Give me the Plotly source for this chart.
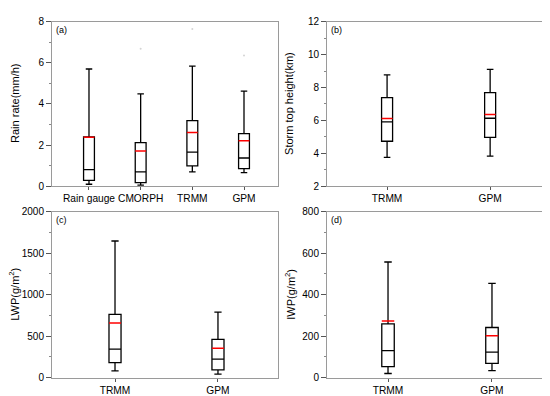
import plotly.graph_objects as go

# ---------------- data ----------------
# (a) Rain rate (mm/h)
a_cats = ["Rain gauge", "CMORPH", "TRMM", "GPM"]
a_low = [0.09, 0.05, 0.69, 0.66]
a_q1 = [0.28, 0.17, 0.99, 0.85]
a_med = [0.80, 0.69, 1.65, 1.37]
a_q3 = [2.39, 2.12, 3.19, 2.56]
a_high = [5.70, 4.49, 5.84, 4.62]
a_mean = [2.38, 1.71, 2.61, 2.21]
a_out_cat = ["CMORPH", "TRMM", "GPM"]
a_out_val = [6.69, 7.65, 6.36]

# (b) Storm top height (km)
b_cats = ["TRMM", "GPM"]
b_low = [3.75, 3.83]
b_q1 = [4.73, 4.96]
b_med = [5.91, 6.13]
b_q3 = [7.38, 7.69]
b_high = [8.77, 9.10]
b_mean = [6.12, 6.36]

# (c) LWP (g/m2)
c_cats = ["TRMM", "GPM"]
c_low = [82, 43]
c_q1 = [180, 94]
c_med = [344, 223]
c_q3 = [762, 461]
c_high = [1648, 789]
c_mean = [660, 355]

# (d) IWP (g/m2)
d_cats = ["TRMM", "GPM"]
d_low = [20, 34]
d_q1 = [53, 69]
d_med = [130, 123]
d_q3 = [259, 242]
d_high = [558, 455]
d_mean = [273, 202]

FONT = "Arial, Liberation Sans, sans-serif"
W, H = 550, 396

panels = [
    dict(cats=a_cats, low=a_low, q1=a_q1, med=a_med, q3=a_q3, high=a_high, mean=a_mean,
         yr=[0, 8], dt=2, mdt=1, xr=[-0.716, 3.658], bw=0.21,
         px=(44, 270), py=(8, 177.5), title="Rain rate(mm/h)", tag="(a)", tx=13),
    dict(cats=b_cats, low=b_low, q1=b_q1, med=b_med, q3=b_q3, high=b_high, mean=b_mean,
         yr=[2, 12], dt=2, mdt=1, xr=[-0.583, 1.61], bw=0.107,
         px=(319, 545), py=(8, 177.5), title="Storm top height(km)", tag="(b)", tx=287),
    dict(cats=c_cats, low=c_low, q1=c_q1, med=c_med, q3=c_q3, high=c_high, mean=c_mean,
         yr=[0, 2000], dt=500, mdt=250, xr=[-0.612, 1.583], bw=0.117,
         px=(44, 270), py=(204, 375), title="LWP(g/m<sup>2</sup>)", tag="(c)", tx=12),
    dict(cats=d_cats, low=d_low, q1=d_q1, med=d_med, q3=d_q3, high=d_high, mean=d_mean,
         yr=[0, 800], dt=200, mdt=100, xr=[-0.587, 1.587], bw=0.12,
         px=(319, 545), py=(204, 375), title="IWP(g/m<sup>2</sup>)", tag="(d)", tx=288),
]

fig = go.Figure()
layout = dict(width=W, height=H, margin=dict(l=0, r=0, t=0, b=0),
              paper_bgcolor="white", plot_bgcolor="white", showlegend=False,
              font=dict(family=FONT, color="black"))
annotations = []

for i, p in enumerate(panels):
    n = i + 1
    xa = "x" if n == 1 else f"x{n}"
    ya = "y" if n == 1 else f"y{n}"
    pos = list(range(len(p["cats"])))
    fig.add_trace(go.Box(
        x=pos, q1=p["q1"], median=p["med"], q3=p["q3"],
        lowerfence=p["low"], upperfence=p["high"],
        width=p["bw"], whiskerwidth=0.6, boxpoints=False,
        line=dict(color="black", width=1.3), fillcolor="white",
        xaxis=xa, yaxis=ya, hoverinfo="skip"))
    mx, my = [], []
    for k, m in zip(pos, p["mean"]):
        mx += [k - p["bw"] / 2, k + p["bw"] / 2, None]
        my += [m, m, None]
    fig.add_trace(go.Scatter(x=mx, y=my, mode="lines",
                             line=dict(color="#ff0000", width=1.5),
                             xaxis=xa, yaxis=ya, hoverinfo="skip"))
    if n == 1:
        ox = [a_cats.index(c) for c in a_out_cat]
        fig.add_trace(go.Scatter(x=ox, y=a_out_val, mode="markers",
                                 marker=dict(size=2, color="#d4d4d4"),
                                 xaxis=xa, yaxis=ya, hoverinfo="skip"))

    x0, x1 = p["px"][0] / W, p["px"][1] / W
    y0, y1 = 1 - p["py"][1] / H, 1 - p["py"][0] / H
    xkey = "xaxis" if n == 1 else f"xaxis{n}"
    ykey = "yaxis" if n == 1 else f"yaxis{n}"
    layout[xkey] = dict(domain=[x0, x1], range=p["xr"], anchor=ya,
                        tickmode="array", tickvals=pos, ticktext=p["cats"],
                        tickangle=0,
                        ticks="outside", ticklen=3, tickcolor="#555",
                        showline=True, linecolor="#9a9a9a", linewidth=1, mirror=True,
                        showgrid=False, zeroline=False,
                        tickfont=dict(size=10.2, family=FONT, color="black"))
    layout[ykey] = dict(domain=[y0, y1], range=p["yr"], anchor=xa,
                        dtick=p["dt"], tick0=p["yr"][0],
                        ticks="outside", ticklen=5, tickcolor="#555",
                        minor=dict(dtick=p["mdt"], ticks="outside", ticklen=2, tickcolor="#888"),
                        showline=True, linecolor="#9a9a9a", linewidth=1, mirror=True,
                        showgrid=False, zeroline=False,
                        tickfont=dict(size=10, family=FONT, color="black"))
    annotations.append(dict(text=p["title"], xref="paper", yref="paper",
                            x=(p["tx"] - 6) / W, y=(y0 + y1) / 2, textangle=-90,
                            xanchor="center", yanchor="middle", showarrow=False,
                            font=dict(size=11, family=FONT, color="black")))
    annotations.append(dict(text=p["tag"], xref="paper", yref="paper",
                            x=(p["px"][0] + 2) / W, y=1 - (p["py"][0] + 1) / H,
                            xanchor="left", yanchor="top", showarrow=False,
                            font=dict(size=9, family=FONT, color="black")))

layout["annotations"] = annotations
fig.update_layout(**layout)
fig.write_html("out.html")
